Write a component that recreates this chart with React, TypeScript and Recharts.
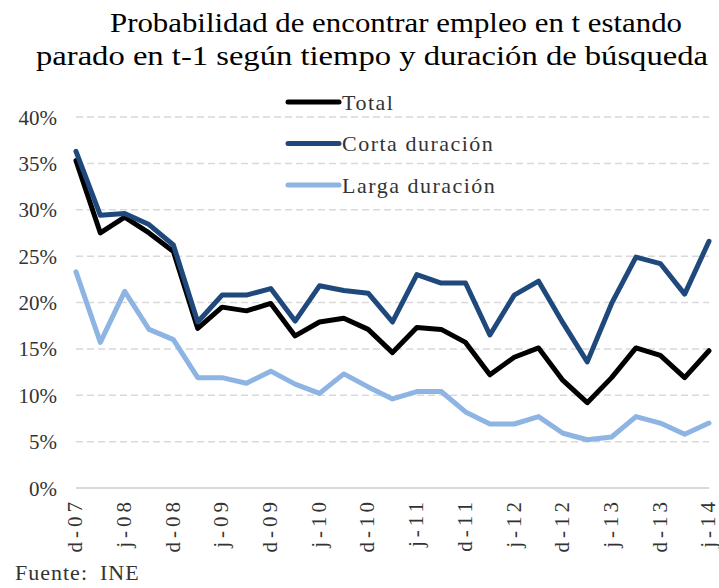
import React from 'react';
import { LineChart, Line, XAxis, YAxis, CartesianGrid, Legend } from 'recharts';

const categories = [
  'd-07', 'm-08', 'j-08', 's-08', 'd-08', 'm-09', 'j-09', 's-09', 'd-09',
  'm-10', 'j-10', 's-10', 'd-10', 'm-11', 'j-11', 's-11', 'd-11', 'm-12',
  'j-12', 's-12', 'd-12', 'm-13', 'j-13', 's-13', 'd-13', 'm-14', 'j-14',
];
const totalValues = [
  35.3, 27.5, 29.2, 27.5, 25.5, 17.2, 19.5, 19.1, 19.9, 16.4, 17.9, 18.3, 17.1, 14.6,
  17.3, 17.1, 15.7, 12.2, 14.1, 15.1, 11.6, 9.2, 11.9, 15.1, 14.3, 11.9, 14.8,
];
const cortaValues = [
  36.3, 29.4, 29.6, 28.4, 26.2, 17.9, 20.8, 20.8, 21.5, 18.0, 21.8, 21.3, 21.0, 17.9,
  23.0, 22.1, 22.1, 16.5, 20.8, 22.3, 17.8, 13.6, 19.9, 24.9, 24.2, 20.9, 26.6,
];
const largaValues = [
  23.3, 15.7, 21.2, 17.1, 16.0, 11.9, 11.9, 11.3, 12.6, 11.2, 10.2, 12.3, 10.9, 9.6,
  10.4, 10.4, 8.2, 6.9, 6.9, 7.7, 5.9, 5.2, 5.5, 7.7, 7.0, 5.8, 7.0,
];
const yTicks = [0, 5, 10, 15, 20, 25, 30, 35, 40];
const seriesKeys = ['total', 'corta', 'larga'];
const seriesNames = ['Total', 'Corta duración', 'Larga duración'];
const seriesColors = ['#000000', '#1f497d', '#8db4e2'];
const titleLines = [
  'Probabilidad de encontrar empleo en t estando',
  'parado en t-1 según tiempo y duración de búsqueda',
];
const sourceText = 'Fuente:\u2002INE';

const data = categories.map((c, i) => ({
  cat: c,
  total: totalValues[i],
  corta: cortaValues[i],
  larga: largaValues[i],
}));

const FONT = '"Liberation Serif", "Times New Roman", serif';
const TEXT_COLOR = '#333333';

const XTick = (props: any) => {
  const { x, y, payload } = props;
  return (
    <g transform={`translate(${x},${y}) rotate(-90)`}>
      <text x={0} y={0} dy="0.3em" textAnchor="end" fontFamily={FONT} fontSize={21}
        letterSpacing={4} fill={TEXT_COLOR}>
        {payload.value}
      </text>
    </g>
  );
};

const YTick = (props: any) => {
  const { x, y, payload } = props;
  return (
    <text x={x} y={y} dy="0.36em" textAnchor="end" fontFamily={FONT} fontSize={21} fill={TEXT_COLOR}>
      {`${payload.value}%`}
    </text>
  );
};

const renderLegend = () => (
  <svg width={240} height={120} style={{ overflow: 'visible' }}>
    {seriesNames.map((n, i) => {
      const cy = 14 + i * 41.5;
      return (
        <g key={n}>
          <line x1={4} x2={55} y1={cy} y2={cy} stroke={seriesColors[i]} strokeWidth={5}
            strokeLinecap="round" />
          <text x={58} y={cy} dy="0.36em" fontFamily={FONT} fontSize={22} letterSpacing={1.5}
            fill={TEXT_COLOR}>
            {n}
          </text>
        </g>
      );
    })}
  </svg>
);

export default function App() {
  return (
    <div style={{ position: 'absolute', left: 0, top: 0, width: 719, height: 588, background: '#ffffff' }}>
      <svg width={719} height={80} style={{ position: 'absolute', left: 0, top: 0 }}>
        <text x={396} y={32} textAnchor="middle" fontFamily={FONT} fontSize={28} fill="#000"
          textLength={572} lengthAdjust="spacingAndGlyphs">
          {titleLines[0]}
        </text>
        <text x={372} y={65} textAnchor="middle" fontFamily={FONT} fontSize={28} fill="#000"
          textLength={672} lengthAdjust="spacingAndGlyphs">
          {titleLines[1]}
        </text>
      </svg>
      <div style={{ position: 'absolute', left: 0, top: 0 }}>
        <LineChart width={719} height={588} data={data}
          margin={{ top: 117, right: 10, left: 0, bottom: 0 }}>
          <CartesianGrid vertical={false} stroke="#d9d9d9" strokeDasharray="7 4" strokeWidth={1.5} />
          <XAxis dataKey="cat" interval={1} tick={<XTick />} tickLine={false}
            axisLine={{ stroke: '#d9d9d9', strokeWidth: 2 }} height={100} tickMargin={4} />
          <YAxis domain={[0, 40]} ticks={yTicks} tick={<YTick />} tickLine={false}
            axisLine={false} width={76} tickMargin={13} />
          <Legend content={renderLegend} verticalAlign="middle" align="center" layout="vertical"
            wrapperStyle={{ position: 'absolute', left: 284, top: 88, width: 240 }} />
          {seriesKeys.map((k, i) => (
            <Line key={k} type="linear" dataKey={k} name={seriesNames[i]} stroke={seriesColors[i]}
              strokeWidth={5} dot={false} strokeLinejoin="round" strokeLinecap="round"
              isAnimationActive={false} />
          ))}
        </LineChart>
      </div>
      <div style={{ position: 'absolute', left: 15, top: 560, fontFamily: FONT, fontSize: 22,
        color: TEXT_COLOR, letterSpacing: 1 }}>
        {sourceText}
      </div>
    </div>
  );
}
